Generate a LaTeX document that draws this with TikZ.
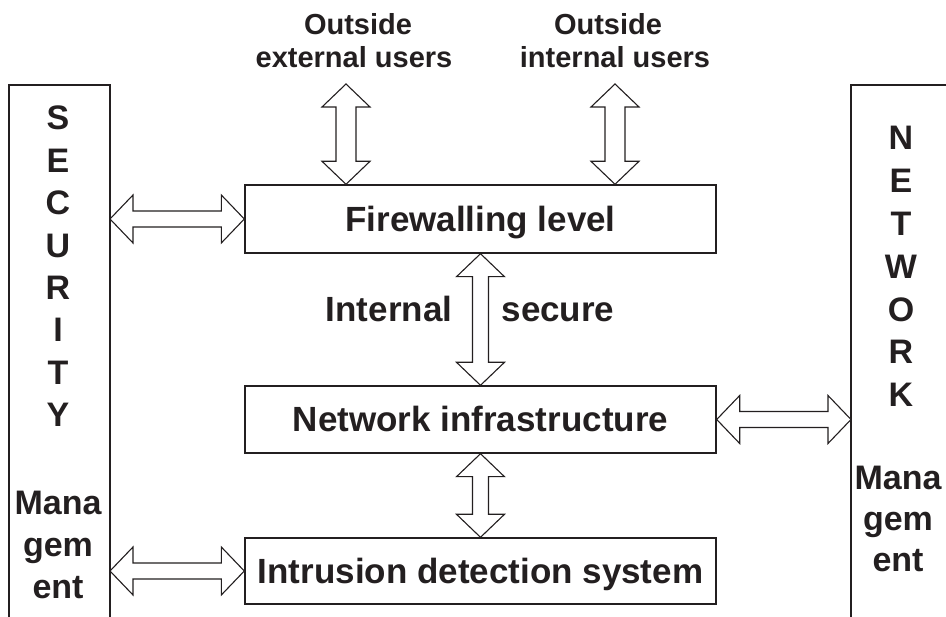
\documentclass[tikz,border=0pt]{standalone}
\usepackage{fontspec}
\setmainfont{Liberation Sans}
\usetikzlibrary{calc}
\definecolor{ink}{HTML}{231F20}
\newcommand\harr[3]{%
  \draw[fat] (#1) -- ($(#1)+(23,-24)$) -- ($(#1)+(23,-#3)$) -- ($(#2)+(-23,-#3)$) -- ($(#2)+(-23,-24)$) -- (#2)
    -- ($(#2)+(-23,24)$) -- ($(#2)+(-23,#3)$) -- ($(#1)+(23,#3)$) -- ($(#1)+(23,24)$) -- cycle;}
\newcommand\varr[3]{%
  \draw[fat] (#1) -- ($(#1)+(24,23)$) -- ($(#1)+(#3,23)$) -- ($(#2)+(#3,-23)$) -- ($(#2)+(24,-23)$) -- (#2)
    -- ($(#2)+(-24,-23)$) -- ($(#2)+(-#3,-23)$) -- ($(#1)+(-#3,23)$) -- ($(#1)+(-24,23)$) -- cycle;}
\tikzset{
  box/.style={draw=ink, line width=1.4pt, minimum width=471pt, inner sep=0pt,
    text height=25pt, text depth=0pt,
    font=\fontsize{35}{40}\selectfont\bfseries, text=ink},
  fat/.style={draw=ink, line width=1.1pt, fill=white, line join=miter},
  side/.style={font=\fontsize{34}{41}\selectfont\bfseries, text=ink, anchor=base, inner sep=0pt},
  toplab/.style={font=\fontsize{29}{33}\selectfont\bfseries, text=ink, anchor=base, inner sep=0pt},
  midlab/.style={font=\fontsize{35}{40}\selectfont\bfseries, text=ink, anchor=base, inner sep=0pt},
  bar/.style={draw=ink, line width=1.3pt}
}
\begin{document}
\begin{tikzpicture}[x=1pt,y=-1pt]
\useasboundingbox (0,0) rectangle (946,617);
% side bars
\coordinate (secTL) at (9,85);
\coordinate (secTR) at (110,85);
\coordinate (secBL) at (9,617);
\coordinate (secBR) at (110,617);
\coordinate (netTL) at (851,85);
\coordinate (netBL) at (851,617);
\coordinate (netTR) at (950,85);
\draw[bar] (secBL) -- (secTL) -- (secTR) -- (secBR);
\draw[bar] (netBL) -- (netTL) -- (netTR);
% boxes
\node[box, minimum height=68pt] (fw) at (480.5,219) {Firewalling level};
\node[box, minimum height=67pt] (ni) at (480.5,419.5) {Network infrastructure};
\node[box, minimum height=66pt] (ids) at (480.5,571) {Intrusion detection system};
% top labels
\node[toplab] (ext1) at (358,35) {Outside};
\node[toplab] (ext2) at (354,68) {external users};
\node[toplab] (int1) at (608,35) {Outside};
\node[toplab] (int2) at (615,68) {internal users};
% middle labels
\node[midlab] (lint) at (389,322) {Internal};
\node[midlab] (lsec) at (558,322) {secure};
% side letters
\foreach \l [count=\i] in {S,E,C,U,R,I,T,Y}
  \node[side] (sl\i) at (58,{130+42.4*(\i-1)}) {\l};
\node[side] (sm1) at (58,515) {Mana};
\node[side] (sm2) at (58,557) {gem};
\node[side] (sm3) at (58,598) {ent};
\foreach \l [count=\i] in {N,E,T,W,O,R,K}
  \node[side] (nl\i) at (901,{150+42.8*(\i-1)}) {\l};
\node[side] (nm1) at (898,490) {Mana};
\node[side] (nm2) at (898,531) {gem};
\node[side] (nm3) at (898,572) {ent};
% arrow end points
\coordinate (a1) at (secTR |- fw.west);
\coordinate (a2) at (secTR |- ids.west);
\coordinate (a3) at (netTL |- ni.east);
\coordinate (e1) at (346,84);
\coordinate (e2) at (e1 |- fw.north);
\coordinate (i1) at (615,84);
\coordinate (i2) at (i1 |- fw.north);
% arrows
\harr{a1}{fw.west}{8}
\harr{a2}{ids.west}{8}
\harr{ni.east}{a3}{8}
\varr{e1}{e2}{10}
\varr{i1}{i2}{10}
\varr{fw.south}{ni.north}{8}
\varr{ni.south}{ids.north}{8}
\end{tikzpicture}
\end{document}
